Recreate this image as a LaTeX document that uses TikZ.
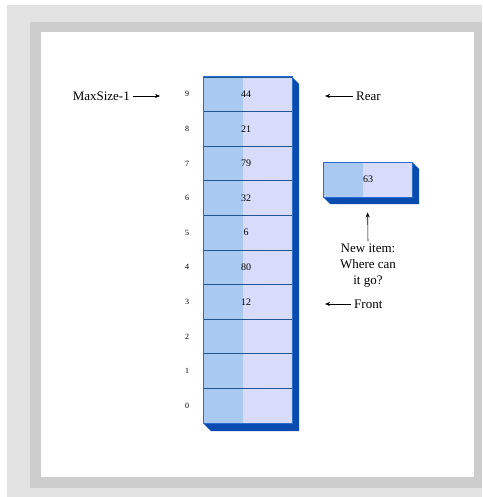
\documentclass[tikz,border=0pt]{standalone}
\usepackage{fontspec}
\setmainfont{Liberation Serif}
\usetikzlibrary{arrows.meta}
\definecolor{cellL}{HTML}{A9C9F0}
\definecolor{cellR}{HTML}{D8DCFA}
\definecolor{edgeblue}{HTML}{2A6CD0}
\definecolor{deep}{HTML}{0A4BB0}
\definecolor{sep}{HTML}{1F5590}
\definecolor{frameA}{HTML}{E3E3E3}
\definecolor{frameB}{HTML}{CDCDCD}
\begin{document}
\begin{tikzpicture}[x=1pt,y=-1pt,
  lbl/.style={font=\fontsize{13}{16}\selectfont, inner sep=0pt},
  idx/.style={font=\fontsize{8}{9}\selectfont, inner sep=0pt},
  val/.style={font=\fontsize{10}{11}\selectfont, inner sep=0pt},
  cellbox/.style={minimum width=89pt, minimum height=34.6pt, inner sep=0pt, fill=cellR, draw=sep, line width=0.8pt,
    path picture={\fill[cellL] (path picture bounding box.north west) rectangle ([xshift=40pt]path picture bounding box.south west);}},
  arr/.style={line width=0.6pt, -{Stealth[length=5pt,width=4pt]}}]
\useasboundingbox (0,0) rectangle (482,497);
% frame
\fill[frameA] (7,5) rectangle (482,497);
\fill[frameB] (30,22) rectangle (482,488);
\fill[white] (41,32) rectangle (474,477);
% column depth
\fill[deep] (292,77) -- (299,84) -- (299,431) -- (211,431) -- (203,423) -- (292,423) -- cycle;
% cells
\foreach \i/\v in {0/,1/,2/,3/12,4/80,5/6,6/32,7/79,8/21,9/44}{
  \pgfmathsetmacro\yc{77+(9-\i)*34.6+17.3}
  \node[cellbox] (c\i) at (247.5,\yc) {};
  \node[val] (v\i) at (246,\yc) {\v};
  \node[idx] (i\i) at (187,\yc) {\i};
}
\draw[edgeblue, line width=1pt] (203,77) rectangle (292,423);
% labels left/right
\node[lbl, anchor=east] (maxs) at (130,96) {MaxSize-1};
\coordinate (maxtip) at (160,96);
\draw[arr, shorten <=3pt] (maxs.east) -- (maxtip);
\node[lbl, anchor=west] (rear) at (356,96) {Rear};
\coordinate (reartip) at (325,96);
\draw[arr, shorten <=3pt] (rear.west) -- (reartip);
\node[lbl, anchor=west] (front) at (354,304) {Front};
\coordinate (fronttip) at (325,304);
\draw[arr, shorten <=3pt] (front.west) -- (fronttip);
% new item box
\fill[deep] (412,162) -- (419,169) -- (419,204) -- (330,204) -- (323,197) -- (412,197) -- cycle;
\node[cellbox, minimum height=35pt, draw=edgeblue, line width=1pt] (newbox) at (367.5,179.5) {};
\node[val] (v63) at (368,179.5) {63};
\node[lbl, align=center] (newitem) at (368,266) {New item:\\Where can\\it go?};
\draw[arr, shorten <=3pt, shorten >=15pt] (newitem.north) -- (newbox.south);
\end{tikzpicture}
\end{document}
